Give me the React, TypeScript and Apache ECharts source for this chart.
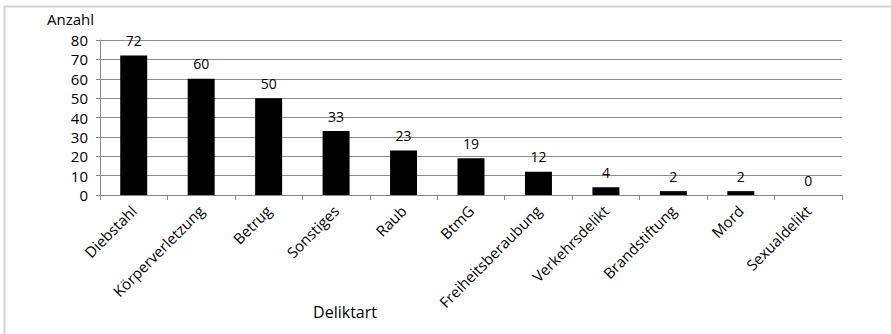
import React, { useEffect, useRef } from "react";
import * as echarts from "echarts";

const categories = [
  "Diebstahl",
  "Körperverletzung",
  "Betrug",
  "Sonstiges",
  "Raub",
  "BtmG",
  "Freiheitsberaubung",
  "Verkehrsdelikt",
  "Brandstiftung",
  "Mord",
  "Sexualdelikt",
];
const counts = [72, 60, 50, 33, 23, 19, 12, 4, 2, 2, 0];
const yTicks = { min: 0, max: 80, interval: 10 };
const xTitle = "Deliktart";
const yTitle = "Anzahl";

const FONT = "'Open Sans', 'Noto Sans', sans-serif";

export default function App() {
  const ref = useRef<HTMLDivElement>(null);

  useEffect(() => {
    if (!ref.current) return;
    const chart = echarts.init(ref.current, undefined, { renderer: "svg" });
    chart.setOption({
      animation: false,
      backgroundColor: "#ffffff",
      textStyle: { fontFamily: FONT },
      graphic: [
        {
          type: "rect",
          shape: { x: 4.5, y: 6.5, width: 920, height: 360 },
          style: { fill: "none", stroke: "#d4d4d4", lineWidth: 2 },
          silent: true,
        },
        {
          type: "text",
          x: 345,
          y: 312,
          style: {
            text: xTitle,
            font: `16px ${FONT}`,
            fill: "#000",
            align: "center",
            verticalAlign: "middle",
          },
          silent: true,
        },
      ],
      grid: { left: 100, right: 49, top: 40, bottom: 139 },
      xAxis: {
        type: "category",
        data: categories,
        axisLine: { lineStyle: { color: "#868686", width: 1 } },
        axisTick: { show: true, alignWithLabel: false, length: 5, lineStyle: { color: "#868686" } },
        axisLabel: {
          rotate: 45,
          fontSize: 15,
          color: "#000",
          fontFamily: FONT,
          margin: 13,
          interval: 0,
        },
      },
      yAxis: {
        type: "value",
        min: yTicks.min,
        max: yTicks.max,
        interval: yTicks.interval,
        name: yTitle,
        nameLocation: "end",
        nameGap: 14,
        nameTextStyle: {
          fontSize: 15,
          color: "#000",
          align: "right",
          padding: [0, 6, 0, 0],
          fontFamily: FONT,
        },
        axisLine: { show: true, lineStyle: { color: "#868686" } },
        axisTick: { show: true, length: 4, lineStyle: { color: "#868686" } },
        axisLabel: { fontSize: 15, color: "#000", margin: 12, fontFamily: FONT },
        splitLine: { show: true, lineStyle: { color: "#8c8c8c", width: 1 } },
      },
      series: [
        {
          type: "bar",
          data: counts,
          barCategoryGap: "60%",
          itemStyle: { color: "#000000" },
          label: {
            show: true,
            position: "top",
            distance: 8,
            fontSize: 14,
            color: "#000",
            fontFamily: FONT,
          },
        },
      ],
    });
    return () => chart.dispose();
  }, []);

  return (
    <div
      ref={ref}
      style={{ position: "fixed", left: 0, top: 0, width: 891, height: 334 }}
    />
  );
}
